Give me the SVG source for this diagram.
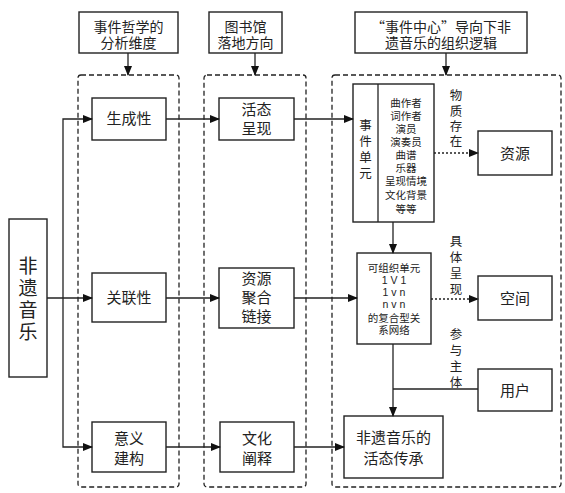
<svg xmlns="http://www.w3.org/2000/svg" width="565" height="493" viewBox="0 0 565 493">
<defs>
<marker id="ah" markerWidth="10" markerHeight="8" refX="9" refY="4" orient="auto" markerUnits="userSpaceOnUse">
<path d="M0,0 L10,4 L0,8 Z" fill="#111"/>
</marker>
<style>
.box{fill:#fff;stroke:#222;stroke-width:1.4}
.grp{fill:none;stroke:#222;stroke-width:1.3;stroke-dasharray:5,3}
.ln{fill:none;stroke:#222;stroke-width:1.3}
.dot{fill:none;stroke:#222;stroke-width:1.3;stroke-dasharray:2,2}
text{font-family:"Liberation Sans","Noto Sans CJK SC",sans-serif;fill:#222;text-anchor:middle}
.cjk{font-family:"Noto Sans CJK SC",sans-serif}
.t14{font-size:14px}
.t15{font-size:15px}
.t11{font-size:10.5px}
.t12{font-size:12.5px}
.t20{font-size:19px}
</style>
</defs>
<rect width="565" height="493" fill="#fff"/>

<g id="groups">
<rect class="grp" x="78" y="75" width="101" height="412" rx="3"/>
<rect class="grp" x="204" y="75" width="102" height="412" rx="3"/>
<rect class="grp" x="332" y="75" width="229" height="412" rx="3"/>
</g>

<g id="head1"><rect class="box" x="79" y="12" width="99" height="41"/>
<text class="t14" x="128.5" y="32">事件哲学的</text><text class="t14" x="128.5" y="48">分析维度</text></g>
<g id="head2"><rect class="box" x="209" y="12" width="73" height="41"/>
<text class="t14" x="245.5" y="32">图书馆</text><text class="t14" x="245.5" y="48">落地方向</text></g>
<g id="head3"><rect class="box" x="355" y="12" width="172" height="41"/>
<text class="t14" x="441" y="32"><tspan class="cjk">“</tspan>事件中心<tspan class="cjk">”</tspan>导向下非</text><text class="t14" x="441" y="48">遗音乐的组织逻辑</text></g>

<g id="feiyi"><rect class="box" x="9" y="219" width="38" height="158"/>
<text class="t20" x="28" y="273">非</text><text class="t20" x="28" y="295">遗</text><text class="t20" x="28" y="317">音</text><text class="t20" x="28" y="339">乐</text></g>

<g id="shengcheng"><rect class="box" x="92" y="98" width="74" height="42"/><text class="t15" x="129" y="124">生成性</text></g>
<g id="guanlian"><rect class="box" x="92" y="273" width="74" height="49"/><text class="t15" x="129" y="303">关联性</text></g>
<g id="yiyi"><rect class="box" x="92" y="422" width="74" height="50"/><text class="t15" x="129" y="444">意义</text><text class="t15" x="129" y="464">建构</text></g>

<g id="huotai"><rect class="box" x="219" y="98" width="75" height="42"/><text class="t15" x="256.5" y="115">活态</text><text class="t15" x="256.5" y="134">呈现</text></g>
<g id="ziyuanjuhe"><rect class="box" x="219" y="268" width="75" height="60"/><text class="t15" x="256.5" y="284">资源</text><text class="t15" x="256.5" y="303">聚合</text><text class="t15" x="256.5" y="322">链接</text></g>
<g id="wenhua"><rect class="box" x="220" y="422" width="74" height="50"/><text class="t15" x="257" y="444">文化</text><text class="t15" x="257" y="464">阐释</text></g>

<g id="event"><rect class="box" x="353" y="84" width="81" height="138"/><line class="ln" x1="378" y1="84" x2="378" y2="222"/>
<text class="t12" x="365.5" y="130">事</text><text class="t12" x="365.5" y="146">件</text><text class="t12" x="365.5" y="162">单</text><text class="t12" x="365.5" y="178">元</text>
<text class="t11" x="406" y="107">曲作者</text><text class="t11" x="406" y="120">词作者</text><text class="t11" x="406" y="133">演员</text><text class="t11" x="406" y="146">演奏员</text><text class="t11" x="406" y="159">曲谱</text><text class="t11" x="406" y="172">乐器</text><text class="t11" x="406" y="185">呈现情境</text><text class="t11" x="406" y="199">文化背景</text><text class="t11" x="406" y="213">等等</text></g>

<g id="unit"><rect class="box" x="357" y="253" width="74" height="91"/>
<text class="t11" x="394" y="272">可组织单元</text><text class="t11" x="394" y="284">1 V 1</text><text class="t11" x="394" y="296">1 v n</text><text class="t11" x="394" y="308">n v n</text><text class="t11" x="394" y="322">的复合型关</text><text class="t11" x="394" y="334">系网络</text></g>

<g id="chuancheng"><rect class="box" x="344" y="416" width="99" height="62"/><text class="t15" x="393.5" y="443">非遗音乐的</text><text class="t15" x="393.5" y="464">活态传承</text></g>

<g id="ziyuan"><rect class="box" x="478" y="131" width="74" height="44"/><text class="t15" x="515" y="159">资源</text></g>
<g id="kongjian"><rect class="box" x="478" y="276" width="74" height="44"/><text class="t15" x="515" y="304">空间</text></g>
<g id="yonghu"><rect class="box" x="478" y="369" width="74" height="42"/><text class="t15" x="515" y="396">用户</text></g>

<g id="labels">
<text class="t12" x="456" y="100">物</text><text class="t12" x="456" y="116">质</text><text class="t12" x="456" y="131">存</text><text class="t12" x="456" y="146">在</text>
<text class="t12" x="456" y="246">具</text><text class="t12" x="456" y="262">体</text><text class="t12" x="456" y="278">呈</text><text class="t12" x="456" y="294">现</text>
<text class="t12" x="456" y="339">参</text><text class="t12" x="456" y="355">与</text><text class="t12" x="456" y="371">主</text><text class="t12" x="456" y="387">体</text>
</g>

<g id="connectors">
<line class="ln" x1="128" y1="53" x2="128" y2="75" marker-end="url(#ah)"/>
<line class="ln" x1="255" y1="53" x2="255" y2="75" marker-end="url(#ah)"/>
<line class="ln" x1="446" y1="53" x2="446" y2="75" marker-end="url(#ah)"/>
<line class="ln" x1="47" y1="298" x2="92" y2="298" marker-end="url(#ah)"/>
<polyline class="ln" points="63,298 63,119 92,119" marker-end="url(#ah)"/>
<polyline class="ln" points="63,298 63,447 92,447" marker-end="url(#ah)"/>
<line class="ln" x1="166" y1="119" x2="219" y2="119" marker-end="url(#ah)"/>
<line class="ln" x1="166" y1="298" x2="219" y2="298" marker-end="url(#ah)"/>
<line class="ln" x1="166" y1="447" x2="220" y2="447" marker-end="url(#ah)"/>
<line class="ln" x1="294" y1="119" x2="353" y2="119" marker-end="url(#ah)"/>
<line class="ln" x1="294" y1="298" x2="357" y2="298" marker-end="url(#ah)"/>
<line class="ln" x1="294" y1="447" x2="344" y2="447" marker-end="url(#ah)"/>
<line class="ln" x1="393" y1="222" x2="393" y2="253" marker-end="url(#ah)"/>
<line class="ln" x1="393" y1="344" x2="393" y2="416" marker-end="url(#ah)"/>
<line class="ln" x1="478" y1="389" x2="393" y2="389"/>
<line class="dot" x1="434" y1="153" x2="478" y2="153" marker-end="url(#ah)"/>
<line class="dot" x1="431" y1="299" x2="478" y2="299" marker-end="url(#ah)"/>
</g>
</svg>
